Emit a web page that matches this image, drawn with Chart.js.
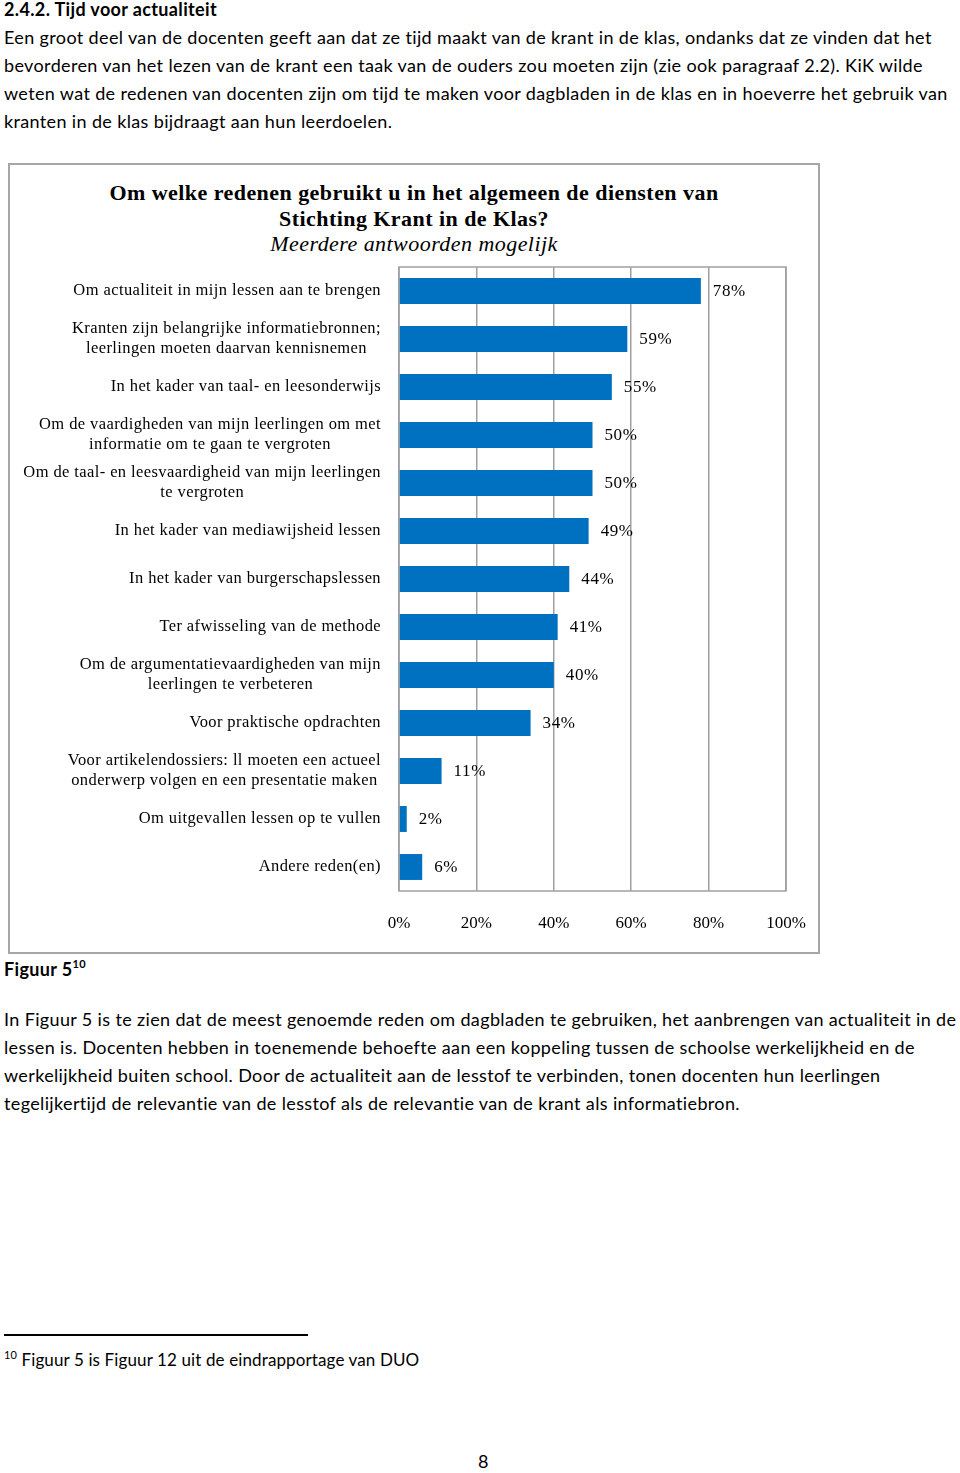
<!DOCTYPE html>
<html>
<head>
<meta charset="utf-8">
<script src="https://cdn.jsdelivr.net/npm/chart.js@4.4.1/dist/chart.umd.min.js"></script>
<style>
  html, body { margin:0; padding:0; background:#fff; }
  body { width:960px; height:1473px; position:relative; overflow:hidden; font-family:"Lato", "Open Sans", sans-serif; color:#000; }
  .ln { position:absolute; left:4px; white-space:nowrap; font-size:18px; line-height:28px; letter-spacing:0.36px; }
  .b { font-weight:bold; }
  #box { position:absolute; left:8px; top:163px; width:808px; height:787px; border:2px solid #a6a6a6; }
  #chartTitle { position:absolute; left:0; top:15px; width:808px; text-align:center; font-family:"Liberation Serif", serif; font-size:22px; line-height:25.5px; letter-spacing:0.45px; color:#000; }
  #chartTitle .t { font-weight:bold; }
  #chartTitle .s { font-style:italic; }
  canvas { position:absolute; left:0; top:0; }
  sup { font-size:11px; vertical-align:top; position:relative; top:-5px; }
</style>
</head>
<body>
<div class="ln b" style="top:-5px">2.4.2. Tijd voor actualiteit</div>
<div class="ln" style="top:23px">Een groot deel van de docenten geeft aan dat ze tijd maakt van de krant in de klas, ondanks dat ze vinden dat het</div>
<div class="ln" style="top:51px">bevorderen van het lezen van de krant een taak van de ouders zou moeten zijn (zie ook paragraaf 2.2). KiK wilde</div>
<div class="ln" style="top:79px">weten wat de redenen van docenten zijn om tijd te maken voor dagbladen in de klas en in hoeverre het gebruik van</div>
<div class="ln" style="top:107px">kranten in de klas bijdraagt aan hun leerdoelen.</div>

<div id="box">
  <div id="chartTitle"><div class="t">Om welke redenen gebruikt u in het algemeen de diensten van<br>Stichting Krant in de Klas?</div><div class="s">Meerdere antwoorden mogelijk</div></div>
  <canvas id="c" width="808" height="787"></canvas>
</div>

<div class="ln b" style="top:955px">Figuur 5<sup>10</sup></div>
<div class="ln" style="top:1005px">In Figuur 5 is te zien dat de meest genoemde reden om dagbladen te gebruiken, het aanbrengen van actualiteit in de</div>
<div class="ln" style="top:1033px">lessen is. Docenten hebben in toenemende behoefte aan een koppeling tussen de schoolse werkelijkheid en de</div>
<div class="ln" style="top:1061px">werkelijkheid buiten school. Door de actualiteit aan de lesstof te verbinden, tonen docenten hun leerlingen</div>
<div class="ln" style="top:1089px">tegelijkertijd de relevantie van de lesstof als de relevantie van de krant als informatiebron.</div>

<div style="position:absolute;left:4px;top:1334px;width:304px;height:1.5px;background:#000"></div>
<div class="ln" style="top:1346px;font-size:17px;letter-spacing:0.12px"><sup>10</sup> Figuur 5 is Figuur 12 uit de eindrapportage van DUO</div>
<div class="ln" style="top:1447px;left:478px">8</div>

<script>
const categories = [
  "Om actualiteit in mijn lessen aan te brengen",
  ["Kranten zijn belangrijke informatiebronnen;", "leerlingen moeten daarvan kennisnemen"],
  "In het kader van taal- en leesonderwijs",
  ["Om de vaardigheden van mijn leerlingen om met", "informatie om te gaan te vergroten"],
  ["Om de taal- en leesvaardigheid van mijn leerlingen", "te vergroten"],
  "In het kader van mediawijsheid lessen",
  "In het kader van burgerschapslessen",
  "Ter afwisseling van de methode",
  ["Om de argumentatievaardigheden van mijn", "leerlingen te verbeteren"],
  "Voor praktische opdrachten",
  ["Voor artikelendossiers: ll moeten een actueel", "onderwerp volgen en een presentatie maken"],
  "Om uitgevallen lessen op te vullen",
  "Andere reden(en)"
];
const percentages = [78, 59, 55, 50, 50, 49, 44, 41, 40, 34, 11, 2, 6];
const xTicks = [0, 20, 40, 60, 80, 100];

const serif = '"Liberation Serif", "Times New Roman", serif';

const plotBorder = {
  id: 'plotBorder',
  beforeDatasetsDraw(chart) {
    const {ctx, chartArea: a} = chart;
    ctx.save();
    ctx.strokeStyle = '#a0a0a0';
    ctx.lineWidth = 1.5;
    ctx.strokeRect(a.left, a.top, a.right - a.left, a.bottom - a.top);
    ctx.restore();
  }
};

const valueLabels = {
  id: 'valueLabels',
  afterDatasetsDraw(chart) {
    const {ctx} = chart;
    const meta = chart.getDatasetMeta(0);
    ctx.save();
    ctx.font = '17px ' + serif;
    ctx.letterSpacing = '0.6px';
    ctx.fillStyle = '#000';
    ctx.textAlign = 'left';
    ctx.textBaseline = 'middle';
    meta.data.forEach((bar, i) => {
      ctx.fillText(percentages[i] + '%', bar.x + 12, bar.y + 1);
    });
    ctx.restore();
  }
};

const catLabels = {
  id: 'catLabels',
  afterDraw(chart) {
    const {ctx} = chart;
    const y = chart.scales.y;
    const right = chart.chartArea.left - 18;
    ctx.save();
    ctx.font = '16.5px ' + serif;
    ctx.letterSpacing = '0.4px';
    ctx.fillStyle = '#000';
    ctx.textAlign = 'center';
    ctx.textBaseline = 'middle';
    categories.forEach((lab, i) => {
      const lines = Array.isArray(lab) ? lab : [lab];
      const w = Math.max(...lines.map(l => ctx.measureText(l).width));
      const cx = right - w / 2;
      const cy = y.getPixelForTick(i);
      const lh = 20;
      lines.forEach((l, j) => {
        ctx.fillText(l, cx, cy + (j - (lines.length - 1) / 2) * lh);
      });
    });
    ctx.restore();
  }
};

new Chart(document.getElementById('c'), {
  type: 'bar',
  data: {
    labels: categories,
    datasets: [{
      data: percentages,
      backgroundColor: '#0070C0',
      borderWidth: 0,
      categoryPercentage: 1,
      barPercentage: 0.54
    }]
  },
  options: {
    indexAxis: 'y',
    responsive: false,
    animation: false,
    layout: { padding: { top: 102, right: 32, left: 0, bottom: 0 } },
    plugins: { legend: { display: false }, tooltip: { enabled: false } },
    scales: {
      x: {
        min: 0, max: 100,
        afterBuildTicks(scale) { scale.ticks = xTicks.map(v => ({value: v})); },
        afterFit(scale) { scale.height = 61; scale.paddingLeft = 0; scale.paddingRight = 0; },
        grid: { color: '#a0a0a0', lineWidth: 1.5, drawTicks: false },
        border: { display: false },
        ticks: { padding: 22, color: '#000', font: { family: serif, size: 17 }, callback: v => v + '%' }
      },
      y: {
        afterFit(scale) { scale.width = 389; scale.paddingTop = 0; scale.paddingBottom = 0; },
        grid: { display: false, drawTicks: false },
        border: { display: false },
        ticks: { display: false }
      }
    }
  },
  plugins: [plotBorder, valueLabels, catLabels]
});
</script>
</body>
</html>
